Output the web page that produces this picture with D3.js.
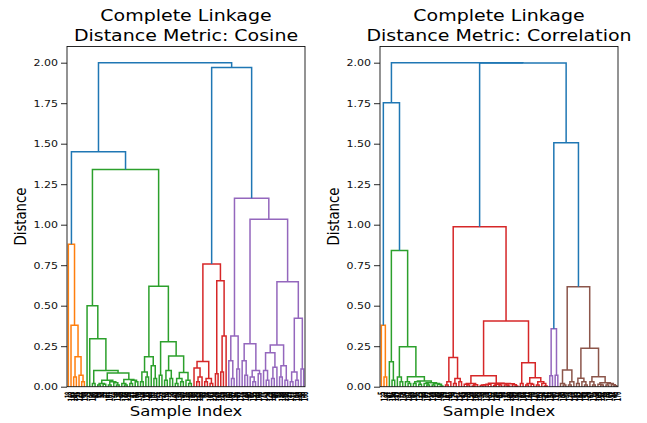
<!DOCTYPE html>
<html>
<head>
<meta charset="utf-8">
<script src="https://cdn.jsdelivr.net/npm/d3@7"></script>
<style>
  body { margin: 0; background: #fff; }
</style>
</head>
<body>
<div id="chart"></div>
<script>
// ---- data: linkage trees, node = [height, left, right], leaf = position in leaf order ----
var cosOrange = [0.88, 0, [0.38, 1, [0.185, [0.06, 2, 3], [0.07, 4, [0.03, 5, 6]]]]];
var cosGreen = [1.34,
  [0.50, 7, [0.296, 8, [0.10, [0.02, 9, 10], [0.085,
    [0.04, [0.02, [0.01, 11, 12], [0.015, 13, 14]], [0.03, [0.01, 15, 16], [0.025, 17, [0.01, 18, 19]]]],
    [0.045, [0.02, 20, [0.01, 21, 22]], [0.04, [0.02, 23, 24], [0.03, 25, 26]]]]]]],
  [0.62,
    [0.185, [0.09, [0.03, 27, 28], [0.06, 29, 30]], [0.13, 31, [0.05, 32, 33]]],
    [0.278, [0.07, 34, 35], [0.19, [0.10, [0.04, 36, 37], [0.05, 38, 39]],
      [0.087, [0.05, [0.02, 40, 41], [0.03, 42, 43]], [0.04, 44, [0.02, 45, 46]]]]]]];
var cosRed = [0.757,
  [0.155, [0.115, 47, [0.06, [0.03, 48, 49], 50]], [0.05, [0.03, 51, 52], [0.02, 53, 54]]],
  [0.654, [0.08, 55, 56], [0.313, [0.09, 57, 58], 59]]];
var cosPurple = [1.163,
  [0.313, [0.16, 60, [0.05, 61, 62]], [0.11, 63, 64]],
  [1.033,
    [0.265, [0.16, 65, [0.07, 66, 67]], [0.10, [0.06, 68, [0.03, 69, 70]], [0.08, 71, 72]]],
    [0.648,
      [0.257, [0.21, [0.1, 73, [0.04, 74, 75]], [0.12, [0.05, 76, 77], 78]], [0.13, [0.06, 79, 80], [0.04, 81, 82]]],
      [0.422, [0.09, [0.03, 83, 84], [0.04, 85, 86]], [0.11, 87, 88]]]]];
var cosineTree = [2.00, [1.45, cosOrange, cosGreen], [1.97, cosRed, cosPurple]];

var corOrange = [0.38, 0, [0.06, 1, 2]];
var corGreen = [0.84, [0.154, 3, [0.04, 4, 5]],
  [0.247, [0.06, 6, [0.03, 7, 8]],
    [0.062, [0.03, 9, [0.02, 10, 11]],
      [0.035, [0.03, [0.02, 12, 13], [0.015, 14, 15]],
        [0.025, [0.02, 16, [0.01, 17, 18]], [0.02, [0.01, 19, 20], [0.015, 21, [0.005, 22, 23]]]]]]]];
var corRed = [0.988,
  [0.18, [0.03, [0.01, 24, 25], 26], [0.05, [0.02, 27, 28], [0.03, 29, 30]]],
  [0.405,
    [0.068, [0.02, [0.015, 31, [0.01, 32, 33]], [0.012, [0.005, 34, 35], 36]],
      [0.022, [0.015, [0.012, [0.01, [0.008, 37, 38], 39], 40], 41],
        [0.02, [0.015, [0.008, 42, 43], [0.01, 44, 45]], [0.018, [0.01, 46, [0.005, 47, 48]], [0.012, 49, [0.004, 50, 51]]]]]],
    [0.148, [0.02, 52, 53], [0.055, [0.02, [0.01, 54, 55], [0.015, 56, 57]], [0.03, [0.01, 58, 59], [0.02, 60, [0.005, 61, 62]]]]]]];
var corPurple = [0.358, [0.068, 63, 64], [0.07, 65, 66]];
var corBrown = [0.617, [0.103, [0.02, 67, [0.01, 68, 69]], [0.03, [0.01, 70, 71], 72]],
  [0.237, [0.052, [0.02, 73, 74], [0.03, 75, [0.01, 76, 77]]],
    [0.062, [0.03, 78, [0.01, 79, 80]],
      [0.025, [0.015, 81, [0.01, 82, 83]], [0.02, [0.01, 84, 85], [0.012, 86, [0.006, 87, 88]]]]]]];
var correlationTree = [2.00, [1.753, corOrange, corGreen], [1.998, corRed, [1.506, corPurple, corBrown]]];

// sample index shown under each leaf
var cosineLabels = [18, 163, 141, 95, 121, 66, 158, 3, 47, 120, 88, 14, 52, 39, 61, 107, 23, 6, 130, 75,
  99, 146, 110, 31, 57, 84, 170, 12, 69, 135, 44, 92, 102, 1, 153, 27, 118, 79, 8, 139,
  64, 176, 20, 97, 126, 35, 59, 150, 113, 168, 42, 72, 86, 143, 131, 10, 161, 115, 55, 25,
  100, 82, 137, 49, 171, 16, 124, 90, 62, 155, 33, 108, 77, 145, 4, 129, 166, 40, 93, 58,
  148, 116, 29, 173, 71, 104, 133, 50, 160];
var correlationLabels = [5, 132, 87, 41, 156, 119, 22, 74, 164, 9, 101, 68, 147, 36, 125, 13, 89, 172, 54, 111,
  30, 142, 80, 19, 167, 63, 98, 127, 2, 151, 45, 114, 76, 159, 26, 106, 138, 53, 0, 174,
  83, 122, 37, 149, 65, 94, 17, 136, 109, 56, 162, 28, 81, 144, 11, 123, 70, 177, 48, 103,
  134, 21, 91, 157, 60, 117, 34, 85, 140, 7, 128, 73, 165, 43, 112, 96, 154, 24, 67, 175,
  38, 105, 152, 15, 78, 169, 51, 46, 176];

var distanceTicks = [0, 0.25, 0.5, 0.75, 1.0, 1.25, 1.5, 1.75, 2.0];

var width = 647,
    height = 423;

var aboveColor = '#1f77b4';
var clusterColors = ['#ff7f0e', '#2ca02c', '#d62728', '#9467bd', '#8c564b', '#e377c2', '#7f7f7f', '#bcbd22', '#17becf'];

var squash = 0.8;   // text in the picture is a bit flattened
var yTop = 46.5, yBottom = 386.7;

var svg = d3.select('#chart').append('svg')
    .attr('width', width)
    .attr('height', height)
    .style('font-family', '"DejaVu Sans", sans-serif');

// build positions the way scipy does: leaves at 5, 15, 25 ... parents at mean of children
function layout(tree) {
    let leaves = [];
    function walk(node) {
        if (!Array.isArray(node)) {
            let leaf = {x: 5 + 10 * leaves.length, h: 0, id: node};
            leaves.push(leaf);
            return leaf;
        }
        let a = walk(node[1]), b = walk(node[2]);
        return {x: (a.x + b.x) / 2, h: node[0], a: a, b: b};
    }
    let root = walk(tree);
    return {root: root, leaves: leaves};
}

function colorize(root) {
    let thr = 0.7 * root.h, k = 0;
    let links = [];
    function walk(n, c) {
        if (!n.a) return;
        if (n.h >= thr) {
            n.color = aboveColor;
            walk(n.a, null); walk(n.b, null);
        } else {
            if (!c) c = clusterColors[k++ % clusterColors.length];
            n.color = c;
            walk(n.a, c); walk(n.b, c);
        }
        links.push(n);
    }
    walk(root, null);
    return links;
}

function flatText(sel, x, y, extra) {
    return sel.append('text')
        .attr('transform', 'translate(' + x + ',' + y + ') scale(1,' + squash + ')' + (extra || ''));
}

function drawPanel(tree, labels, metric, left, right) {
    let lay = layout(tree);
    let links = colorize(lay.root);
    let n = lay.leaves.length;

    let scaleX = d3.scaleLinear().domain([0, 10 * n]).range([left, right]);
    let scaleY = d3.scaleLinear().domain([0, lay.root.h * 1.05]).range([yBottom, yTop]);

    let g = svg.append('g');

    g.selectAll('.link').data(links).enter()
        .append('path')
        .attr('class', 'link')
        .attr('d', d => 'M' + scaleX(d.a.x) + ',' + scaleY(d.a.h) + 'V' + scaleY(d.h) +
            'H' + scaleX(d.b.x) + 'V' + scaleY(d.b.h))
        .attr('fill', 'none')
        .attr('stroke', d => d.color)
        .attr('stroke-width', 1.5);

    // frame
    g.append('rect')
        .attr('x', left).attr('y', yTop)
        .attr('width', right - left).attr('height', yBottom - yTop)
        .attr('fill', 'none')
        .attr('stroke', '#111')
        .attr('stroke-width', 0.9);

    // y axis
    let axisY = g.append('g')
        .attr('transform', 'translate(' + left + ',0)')
        .call(d3.axisLeft(scaleY).tickValues(distanceTicks).tickFormat(d3.format('.2f')).tickSize(6).tickPadding(3));
    axisY.select('.domain').remove();
    axisY.selectAll('line').attr('stroke', '#111').attr('stroke-width', 0.9);
    axisY.selectAll('text')
        .attr('font-family', '"DejaVu Sans", sans-serif')
        .attr('font-size', 11)
        .attr('fill', '#111')
        .attr('transform', 'scale(1,' + squash + ')');

    // x axis: one rotated label per leaf, so many that they merge into a band
    let axisX = g.append('g')
        .attr('transform', 'translate(0,' + yBottom + ')')
        .call(d3.axisBottom(scaleX)
            .tickValues(lay.leaves.map(d => d.x))
            .tickFormat((d, i) => labels[lay.leaves[i].id])
            .tickSize(0));
    axisX.select('.domain').remove();
    axisX.selectAll('text')
        .attr('font-family', '"DejaVu Sans", sans-serif')
        .attr('font-size', 7.5)
        .attr('font-weight', 'bold')
        .attr('fill', '#000')
        .attr('text-anchor', 'end')
        .attr('x', -8)
        .attr('y', 0)
        .attr('dy', '0.35em')
        .attr('transform', 'scale(1.35,0.62) rotate(-90)');

    let cx = (left + right) / 2;
    flatText(svg, cx, 21).attr('text-anchor', 'middle').attr('font-size', 19).text('Complete Linkage');
    flatText(svg, cx, 40.5).attr('text-anchor', 'middle').attr('font-size', 19).text('Distance Metric: ' + metric);
    flatText(svg, cx, 416).attr('text-anchor', 'middle').attr('font-size', 16.5).text('Sample Index');
    flatText(svg, left - 41, (yTop + yBottom) / 2, ' rotate(-90)')
        .attr('text-anchor', 'middle').attr('font-size', 16.5).text('Distance');
}

drawPanel(cosineTree, cosineLabels, 'Cosine', 67, 305);
drawPanel(correlationTree, correlationLabels, 'Correlation', 380, 618);
</script>
</body>
</html>
